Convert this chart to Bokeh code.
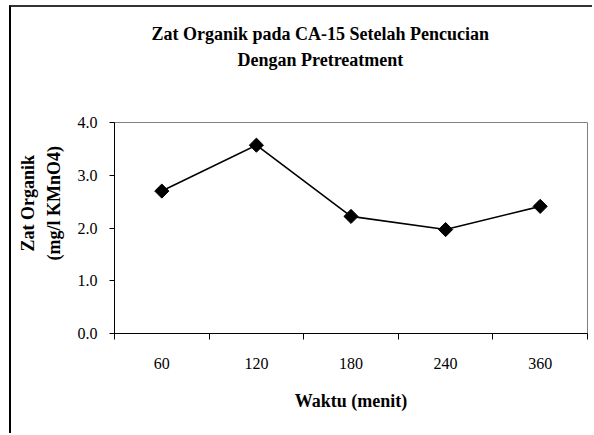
import math
from bokeh.plotting import figure
from bokeh.models import (FixedTicker, LinearAxis, Range1d, Title, PrintfTickFormatter)
from bokeh.embed import file_html
from bokeh.resources import INLINE

# ---- data ----
categories = ["60", "120", "180", "240", "360"]
zat_organik = [2.70, 3.57, 2.22, 1.97, 2.41]
y_ticks = [0.0, 1.0, 2.0, 3.0, 4.0]

title_lines = ["Zat Organik pada CA-15 Setelah Pencucian", "Dengan Pretreatment"]
x_title = "Waktu (menit)"
y_title_lines = ["Zat Organik", "(mg/l KMnO4)"]

# ---- layout ----
W, H = 583, 428
FONT = "Liberation Serif"
TFS = "18px"

xs = list(range(1, len(categories) + 1))
x_bounds = [i + 0.5 for i in range(len(categories) + 1)]

p = figure(width=W, height=H, output_backend="svg", toolbar_location=None,
           x_range=Range1d(0.5, len(categories) + 0.5), y_range=Range1d(0, 4),
           x_axis_type=None, y_axis_type=None,
           min_border_left=103, min_border_right=7, min_border_top=115,
           min_border_bottom=102)
p.title = None
p.styles = {"margin-left": "9px", "margin-top": "5px",
            "border-left": "2px solid black", "border-top": "2px solid #333333"}
p.background_fill_color = "white"
p.border_fill_color = "white"
p.outline_line_color = "#808080"
p.outline_line_width = 1

# titles above (first added -> closest to frame); the blank title only reserves space
p.add_layout(Title(text=" ", standoff=27, text_font=FONT, text_font_size=TFS), "above")
p.add_layout(Title(text=title_lines[1], align="left", offset=123, standoff=7,
                   text_font=FONT, text_font_style="bold", text_font_size=TFS,
                   text_color="black"), "above")
p.add_layout(Title(text=title_lines[0], align="left", offset=37, standoff=1,
                   text_font=FONT, text_font_style="bold", text_font_size=TFS,
                   text_color="black"), "above")

# y axis
yax = LinearAxis(ticker=FixedTicker(ticks=y_ticks))
yax.formatter = PrintfTickFormatter(format="%.1f")
yax.axis_line_color = "black"
yax.axis_line_width = 1
yax.major_tick_out = 5
yax.major_tick_in = 0
yax.minor_tick_line_color = None
yax.major_label_standoff = 12
yax.major_label_text_font = FONT
yax.major_label_text_font_size = "16px"
yax.major_label_text_color = "black"
yax.axis_label = " "
yax.axis_label_text_font_size = "1px"
yax.axis_label_standoff = 5
p.add_layout(yax, "left")

# y axis titles (closest first)
p.add_layout(Title(text=y_title_lines[1], align="left", offset=73, standoff=4,
                   text_font=FONT, text_font_style="bold", text_font_size=TFS,
                   text_color="black"), "left")
p.add_layout(Title(text=y_title_lines[0], align="left", offset=82, standoff=4,
                   text_font=FONT, text_font_style="bold", text_font_size=TFS,
                   text_color="black"), "left")

# x axis: labels at category centres, tick marks at category boundaries
xl = LinearAxis(ticker=FixedTicker(ticks=xs, minor_ticks=x_bounds))
xl.major_label_overrides = {x: c for x, c in zip(xs, categories)}
xl.axis_line_color = "black"
xl.major_tick_line_color = None
xl.major_tick_in = 0
xl.major_tick_out = 6
xl.minor_tick_line_color = "black"
xl.minor_tick_in = 0
xl.minor_tick_out = 6
xl.major_label_standoff = 18
xl.major_label_text_font = FONT
xl.major_label_text_font_size = "16px"
xl.major_label_text_color = "black"
xl.axis_label = x_title
xl.axis_label_text_font = FONT
xl.axis_label_text_font_style = "bold"
xl.axis_label_text_font_size = TFS
xl.axis_label_text_color = "black"
xl.axis_label_standoff = 19
p.add_layout(xl, "below")

# grid
p.ygrid.ticker = FixedTicker(ticks=[1.0, 2.0, 3.0])
p.ygrid.grid_line_color = "black"
p.ygrid.grid_line_width = 1
p.xgrid.grid_line_color = None

# series
p.line(xs, zat_organik, line_color="black", line_width=1.6)
p.scatter(xs, zat_organik, marker="square", angle=math.pi / 4, size=10,
          fill_color="black", line_color="black")

open("out.html", "w").write(file_html(p, INLINE))
